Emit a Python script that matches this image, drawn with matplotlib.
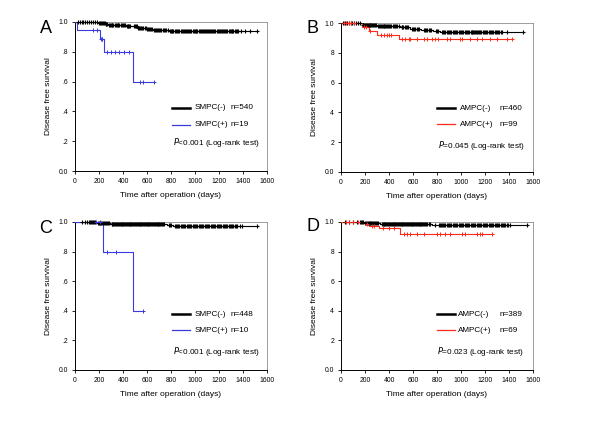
import matplotlib.pyplot as plt
import numpy as np

plt.rcParams['font.family'] = ['Liberation Sans', 'DejaVu Sans']

# ---- Panel A: SMPC ----
a_neg_t = [150, 190, 220, 250, 280, 330, 420, 480, 520, 560, 600, 650, 720, 780, 830]
a_neg_s = [0.998, 0.994, 0.990, 0.985, 0.980, 0.978, 0.975, 0.970, 0.963, 0.957, 0.952, 0.948, 0.944, 0.940, 0.937]
a_neg_end = 1514
a_neg_c = [25, 40, 55, 70, 85, 100, 115, 130, 150, 165, 183, 200, 210, 218, 225, 233, 240, 248,
           255, 262, 270, 280, 290, 298, 305, 312, 320, 330, 340, 348, 355, 362, 370, 380, 390,
           398, 405, 418, 430, 438, 445, 452, 460, 490, 500, 508, 515, 525, 535, 542, 550, 560,
           570, 580, 590, 600, 610, 618, 625, 635, 645, 655, 665, 675, 685, 692, 700, 710, 720,
           730, 740, 750, 760, 775, 790, 798, 805, 812, 820, 835, 845, 852, 860, 870, 880, 890,
           900, 908, 915, 925, 935, 942, 950, 960, 970, 980, 990, 998, 1005, 1012, 1020, 1030,
           1040, 1050, 1060, 1068, 1075, 1082, 1090, 1100, 1110, 1118, 1125, 1135, 1145, 1152,
           1160, 1170, 1180, 1190, 1200, 1208, 1215, 1225, 1235, 1242, 1250, 1260, 1270, 1280,
           1290, 1298, 1305, 1312, 1320, 1330, 1340, 1350, 1360, 1380, 1417, 1458, 1514]
a_pos_t = [20, 205, 238, 481]
a_pos_s = [0.947, 0.888, 0.800, 0.600]
a_pos_end = 661
a_pos_c = [153, 186, 215, 222, 228, 264, 297, 333, 369, 411, 450, 542, 564, 661]

# ---- Panel B: AMPC ----
b_neg_t = [180, 300, 490, 575, 670, 770, 826]
b_neg_s = [0.985, 0.978, 0.973, 0.962, 0.955, 0.946, 0.940]
b_neg_end = 1514
b_neg_c = [20, 35, 50, 65, 80, 95, 110, 125, 140, 160, 185, 193, 200, 208, 215, 223, 230, 238,
           245, 252, 260, 268, 275, 282, 290, 310, 318, 325, 332, 340, 348, 355, 362, 370, 378,
           385, 392, 400, 410, 420, 430, 440, 450, 460, 470, 480, 505, 512, 520, 530, 540, 550,
           560, 590, 600, 610, 620, 630, 640, 650, 690, 700, 710, 720, 730, 740, 750, 790, 800,
           810, 840, 850, 860, 870, 880, 890, 900, 910, 920, 930, 940, 950, 960, 970, 980, 990,
           1000, 1010, 1020, 1030, 1040, 1050, 1060, 1070, 1080, 1088, 1095, 1102, 1110, 1118,
           1125, 1132, 1140, 1150, 1160, 1170, 1180, 1190, 1200, 1210, 1220, 1230, 1240, 1250,
           1260, 1270, 1280, 1290, 1300, 1310, 1320, 1332, 1345, 1380, 1514]
b_pos_t = [174, 230, 300, 480]
b_pos_s = [0.973, 0.946, 0.920, 0.895]
b_pos_end = 1423
b_pos_c = [25, 45, 65, 85, 110, 195, 210, 245, 330, 355, 380, 400, 420, 507, 535, 563, 577, 632,
           688, 715, 757, 785, 812, 882, 909, 993, 1006, 1076, 1131, 1173, 1242, 1298, 1381, 1423]

# ---- Panel C: SMPC ----
c_neg_t = [175, 292, 764, 819]
c_neg_s = [0.990, 0.986, 0.980, 0.975]
c_neg_end = 1514
c_neg_c = [56, 80, 100, 115, 125, 133, 140, 148, 155, 165, 190, 198, 205, 212, 220, 228, 235,
           242, 250, 258, 265, 272, 280, 305, 312, 320, 328, 335, 342, 350, 358, 365, 372, 380,
           388, 395, 402, 410, 418, 425, 432, 440, 448, 455, 462, 470, 478, 485, 492, 500, 508,
           515, 522, 530, 538, 545, 552, 560, 568, 575, 582, 590, 598, 605, 612, 620, 628, 635,
           642, 650, 658, 665, 672, 680, 688, 695, 702, 710, 718, 725, 732, 740, 780, 790, 800,
           835, 842, 850, 860, 870, 880, 890, 900, 910, 920, 930, 940, 950, 960, 970, 980, 990,
           1000, 1010, 1020, 1030, 1040, 1050, 1060, 1070, 1080, 1090, 1100, 1110, 1120, 1130,
           1140, 1150, 1160, 1170, 1180, 1190, 1200, 1210, 1220, 1230, 1240, 1250, 1260, 1270,
           1280, 1290, 1300, 1310, 1320, 1330, 1340, 1350, 1375, 1390, 1514]
c_pos_t = [236, 486]
c_pos_s = [0.800, 0.400]
c_pos_end = 570
c_pos_c = [175, 210, 264, 342, 564]

# ---- Panel D: AMPC ----
d_neg_t = [188, 327, 757, 799]
d_neg_s = [0.993, 0.989, 0.982, 0.977]
d_neg_end = 1547
d_neg_c = [36, 70, 100, 130, 160, 168, 175, 182, 200, 208, 215, 222, 230, 238, 245, 252, 260,
           268, 275, 282, 290, 298, 305, 340, 348, 355, 362, 370, 378, 385, 392, 400, 408, 415,
           422, 430, 438, 445, 452, 460, 468, 475, 482, 490, 498, 505, 512, 520, 528, 535, 542,
           550, 558, 565, 572, 580, 588, 595, 602, 610, 618, 625, 632, 640, 648, 655, 662, 670,
           678, 685, 692, 700, 710, 720, 730, 740, 780, 815, 822, 830, 840, 850, 860, 870, 880,
           890, 900, 910, 920, 930, 940, 950, 960, 970, 980, 990, 1000, 1010, 1020, 1030, 1040,
           1050, 1060, 1070, 1080, 1090, 1100, 1110, 1120, 1130, 1140, 1150, 1160, 1170, 1180,
           1190, 1200, 1210, 1220, 1230, 1240, 1250, 1260, 1270, 1280, 1290, 1300, 1310, 1320,
           1330, 1340, 1350, 1360, 1370, 1380, 1390, 1408, 1547]
d_pos_t = [174, 200, 230, 313, 493]
d_pos_s = [0.993, 0.986, 0.970, 0.959, 0.920]
d_pos_end = 1264
d_pos_c = [42, 70, 100, 140, 215, 258, 271, 354, 396, 438, 521, 549, 577, 632, 688, 799, 826,
           868, 909, 1006, 1034, 1131, 1159, 1173, 1256]

letters = ['A', 'B', 'C', 'D']
neg_labels = ['SMPC(-)', 'AMPC(-)', 'SMPC(-)', 'AMPC(-)']
pos_labels = ['SMPC(+)', 'AMPC(+)', 'SMPC(+)', 'AMPC(+)']
neg_n = ['n=540', 'n=460', 'n=448', 'n=389']
pos_n = ['n=19', 'n=99', 'n=10', 'n=69']
p_text = ['<0.001', '=0.045', '<0.001', '=0.023']
ytick_vals = [0.0, 0.2, 0.4, 0.6, 0.8, 1.0]
ytick_ac = ['0.0', '.2', '.4', '.6', '.8', '1.0']
ytick_bd = ['0.0', '2', '4', '6', '8', '1.0']
xtick_vals = [0, 200, 400, 600, 800, 1000, 1200, 1400, 1600]

BLUE = '#3a3ae0'
RED = '#ff2a1a'


def km(ax, t, s, end, cens, color, lw, ms, mew):
    tt = [0] + t + [end]
    ss = [1.0] + s + [s[-1]]
    ax.step(tt, ss, where='post', color=color, lw=lw, zorder=3)
    idx = np.searchsorted(t, cens, side='right')
    cy = np.array([1.0] + s)[idx]
    ax.plot(cens, cy, '+', color=color, ms=ms, mew=mew, zorder=4, clip_on=False)


fig = plt.figure(figsize=(6, 4.24), dpi=100)
W, H = 600, 424
# axes boxes in pixels: left, right, top, bottom
boxes = [(75, 267, 22, 171), (341, 533, 23, 172), (75, 267, 222, 370), (341, 533, 222, 370)]
letter_pos = [(40, 33), (306, 33), (39, 233), (306, 231)]
data = [
    (a_neg_t, a_neg_s, a_neg_end, a_neg_c, a_pos_t, a_pos_s, a_pos_end, a_pos_c, BLUE),
    (b_neg_t, b_neg_s, b_neg_end, b_neg_c, b_pos_t, b_pos_s, b_pos_end, b_pos_c, RED),
    (c_neg_t, c_neg_s, c_neg_end, c_neg_c, c_pos_t, c_pos_s, c_pos_end, c_pos_c, BLUE),
    (d_neg_t, d_neg_s, d_neg_end, d_neg_c, d_pos_t, d_pos_s, d_pos_end, d_pos_c, RED),
]
leg_y = [(0.423, 0.309, 0.188), (0.429, 0.321, 0.18), (0.378, 0.27, 0.128), (0.378, 0.27, 0.128)]
leg_x = [(0.505, 0.599, 0.625, 0.812, 0.51), (0.50, 0.594, 0.62, 0.823, 0.506),
         (0.505, 0.599, 0.625, 0.812, 0.51), (0.50, 0.594, 0.61, 0.823, 0.50)]

for i in range(4):
    l, r, t, b = boxes[i]
    ax = fig.add_axes([l / W, 1 - b / H, (r - l) / W, (b - t) / H])
    nt, ns, ne, nc, pt, ps, pe, pc, col = data[i]
    km(ax, nt, ns, ne, nc, 'black', 0.8, 3.4, 0.8)
    km(ax, pt, ps, pe, pc, col, 0.8, 3.2, 0.7)

    ax.set_xlim(0, 1600)
    ax.set_ylim(0, 1.0)
    ax.set_xticks(xtick_vals)
    ax.set_xticklabels([str(v) for v in xtick_vals])
    ax.set_yticks(ytick_vals)
    ax.set_yticklabels(ytick_ac if i in (0, 2) else ytick_bd)
    ax.tick_params(labelsize=4.9, length=2, width=0.6, pad=3)
    for sp in ['left', 'bottom']:
        ax.spines[sp].set_linewidth(0.7)
    for sp in ['top', 'right']:
        ax.spines[sp].set_linewidth(0.5)
        ax.spines[sp].set_color('#777777')
    ax.set_xlabel('Time after operation (days)', fontsize=6, labelpad=5)
    ax.set_ylabel('Disease free survival', fontsize=6, labelpad=5)

    # legend drawn by hand
    x0, x1, xt, xn, xp = leg_x[i]
    y1, y2, yp = leg_y[i]
    ax.plot([x0, x1], [y1, y1], color='black', lw=1.8, transform=ax.transAxes)
    ax.plot([x0, x1], [y2, y2], color=col, lw=0.9, transform=ax.transAxes)
    ax.text(xt, y1, neg_labels[i], fontsize=5.9, va='center', transform=ax.transAxes)
    ax.text(xt, y2, pos_labels[i], fontsize=5.9, va='center', transform=ax.transAxes)
    ax.text(xn, y1, neg_n[i], fontsize=5.9, va='center', transform=ax.transAxes)
    ax.text(xn, y2, pos_n[i], fontsize=5.9, va='center', transform=ax.transAxes)
    ax.text(xp, yp, r'$\it{P}$' + p_text[i] + ' (Log-rank test)', fontsize=5.9,
            va='center', transform=ax.transAxes)

    lx, ly = letter_pos[i]
    fig.text(lx / W, 1 - ly / H, letters[i], fontsize=13)

fig.savefig('out.png', dpi=100)
